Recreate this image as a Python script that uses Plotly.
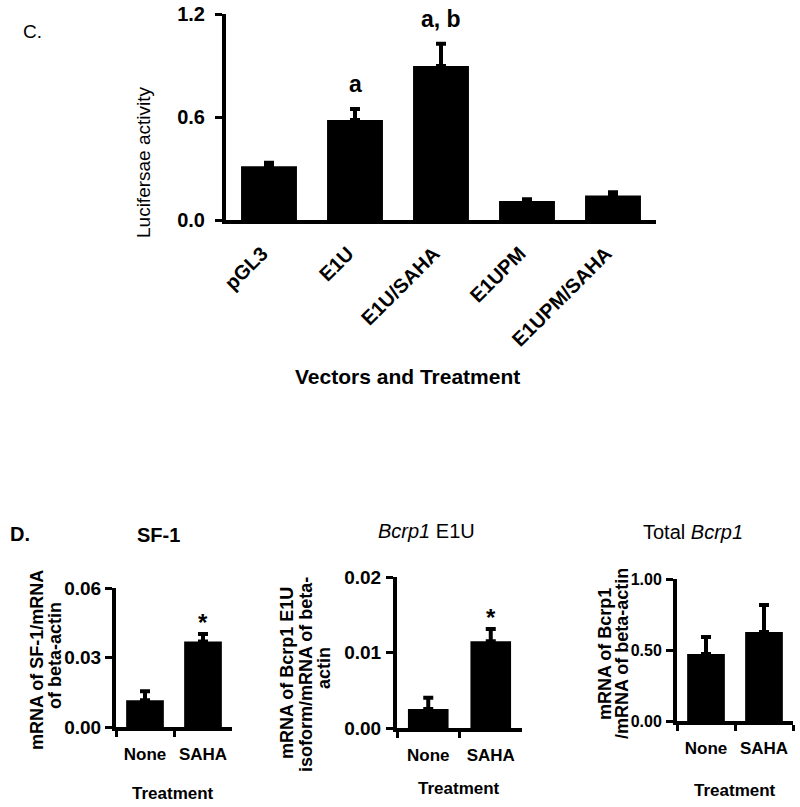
import plotly.graph_objects as go

# ---------------- data ----------------
c_categories = ["pGL3", "E1U", "E1U/SAHA", "E1UPM", "E1UPM/SAHA"]
c_values = [0.313, 0.583, 0.897, 0.111, 0.142]
c_errors = [0.020, 0.064, 0.130, 0.010, 0.020]
c_sig = ["", "a", "a, b", "", ""]
c_yticks = [0.0, 0.6, 1.2]

d_categories = ["None", "SAHA"]
sf1_values = [0.0116, 0.0369]
sf1_errors = [0.0038, 0.0032]
sf1_sig = ["", "*"]
sf1_yticks = [0.00, 0.03, 0.06]

e1u_values = [0.0025, 0.0115]
e1u_errors = [0.0015, 0.0016]
e1u_sig = ["", "*"]
e1u_yticks = [0.00, 0.01, 0.02]

tot_values = [0.472, 0.627]
tot_errors = [0.120, 0.190]
tot_sig = ["", ""]
tot_yticks = [0.00, 0.50, 1.00]

# ---------------- helpers ----------------
W, H = 800, 807
FONT = "Arial, Liberation Sans, sans-serif"


def px(x):
    """screen pixel x -> paper fraction"""
    return x / W


def py(y):
    """screen pixel y -> paper fraction"""
    return 1 - y / H


fig = go.Figure()


def add_bars(cats, vals, errs, xa, ya):
    fig.add_trace(go.Bar(
        x=cats, y=vals, xaxis=xa, yaxis=ya,
        marker=dict(color="black", line=dict(width=0)),
        width=0.65,
        error_y=dict(type="data", symmetric=False, array=errs,
                     arrayminus=[0] * len(vals), thickness=4, width=5,
                     color="black"),
        showlegend=False, hoverinfo="x+y",
    ))


add_bars(c_categories, c_values, c_errors, "x", "y")
add_bars(d_categories, sf1_values, sf1_errors, "x2", "y2")
add_bars(d_categories, e1u_values, e1u_errors, "x3", "y3")
add_bars(d_categories, tot_values, tot_errors, "x4", "y4")

layout = dict(
    width=W, height=H, margin=dict(l=0, r=0, t=0, b=0, autoexpand=False),
    paper_bgcolor="white", plot_bgcolor="white",
    font=dict(family=FONT, color="black"),
    bargap=0.35,
)


def xaxis_def(domain, cats, bottom_style, anchor):
    d = dict(
        domain=[px(domain[0]), px(domain[1])], type="category",
        categoryorder="array", categoryarray=cats,
        range=[-0.5, len(cats) - 0.5], anchor=anchor, automargin=False,
        showline=True, linewidth=4, linecolor="black",
        showgrid=False, zeroline=False, fixedrange=True,
    )
    if bottom_style:
        d.update(ticks="outside", tickson="boundaries", ticklen=6,
                 tickwidth=3, tickcolor="black", tickangle=0,
                 tickfont=dict(family=FONT, size=17, weight="bold"),
                 ticklabelstandoff=9)
    else:
        d.update(ticks="", tickangle=-45,
                 tickfont=dict(family=FONT, size=20, weight="bold"),
                 ticklabelstandoff=10, ticklabelshift=-7)
    return d


def yaxis_def(domain, ticks, fmt, size, anchor, standoff):
    return dict(
        domain=[py(domain[1]), py(domain[0])],
        range=[ticks[0], ticks[-1]], anchor=anchor, automargin=False,
        tickvals=ticks, tickformat=fmt,
        ticks="outside", ticklen=7, tickwidth=3, tickcolor="black",
        showline=True, linewidth=4, linecolor="black",
        showgrid=False, zeroline=False, fixedrange=True,
        tickfont=dict(family=FONT, size=size, weight="bold"),
        ticklabelstandoff=standoff, ticklabeloverflow="allow",
    )


layout["xaxis"] = xaxis_def((226, 656), c_categories, False, "y")
layout["yaxis"] = yaxis_def((14, 220), c_yticks, ".1f", 20, "x", 6)
layout["xaxis2"] = xaxis_def((116, 232), d_categories, True, "y2")
layout["yaxis2"] = yaxis_def((588, 727), sf1_yticks, ".2f", 19, "x2", 0)
layout["xaxis3"] = xaxis_def((397, 522), d_categories, True, "y3")
layout["yaxis3"] = yaxis_def((577, 728), e1u_yticks, ".2f", 19, "x3", 1)
layout["xaxis4"] = xaxis_def((677, 793), d_categories, True, "y4")
layout["yaxis4"] = yaxis_def((579, 721), tot_yticks, ".2f", 16, "x4", 1)

fig.update_layout(**layout)

ann = []


def text(x, y, s, size, bold=True, angle=0, xanchor="center"):
    ann.append(dict(
        x=px(x), y=py(y), xref="paper", yref="paper", text=s,
        showarrow=False, textangle=angle, xanchor=xanchor, yanchor="middle",
        font=dict(family=FONT, size=size, color="black",
                  weight="bold" if bold else "normal"),
    ))


# panel labels
text(21, 32, "C.", 19, bold=False, xanchor="left")
text(8, 534, "D.", 20, xanchor="left")

# panel C titles
text(144, 162, "Lucifersae activity", 19, bold=False, angle=-90)
text(407, 376, "Vectors and Treatment", 21)

# bottom panel titles
text(158, 535, "SF-1", 20)
text(427, 531, "<i>Bcrp1</i> E1U", 20, bold=False)
text(693, 532, "Total <i>Bcrp1</i>", 20, bold=False)

# bottom y titles (one annotation per line)
text(37, 660, "mRNA of SF-1/mRNA", 18, angle=-90)
text(55, 656, "of beta-actin", 18, angle=-90)
text(287, 673, "mRNA of Bcrp1 E1U", 18, angle=-90)
text(306, 675, "isoform/mRNA of beta-", 18, angle=-90)
text(324, 668, "actin", 18, angle=-90)
text(605, 654, "mRNA of Bcrp1", 18, angle=-90)
text(622, 654, "/mRNA of beta-actin", 18, angle=-90)

# bottom x titles
text(173, 793, "Treatment", 17)
text(459, 788, "Treatment", 17)
text(735, 790, "Treatment", 17)


def sig(cats, vals, errs, labels, xa, ya, size, shift):
    for c, v, e, s in zip(cats, vals, errs, labels):
        if s:
            ann.append(dict(
                x=c, y=v + e, xref=xa, yref=ya, text=s, showarrow=False,
                xanchor="center", yanchor="bottom", yshift=shift,
                font=dict(family=FONT, size=size, color="black", weight="bold"),
            ))


sig(c_categories, c_values, c_errors, c_sig, "x", "y", 23, 10)
sig(d_categories, sf1_values, sf1_errors, sf1_sig, "x2", "y2", 24, -4)
sig(d_categories, e1u_values, e1u_errors, e1u_sig, "x3", "y3", 24, -4)
sig(d_categories, tot_values, tot_errors, tot_sig, "x4", "y4", 24, -4)

fig.update_layout(annotations=ann)
# remove the default 8px page margin so the figure fills the window exactly
fig.write_html(
    "out.html",
    config={"displayModeBar": False, "staticPlot": True},
    post_script="document.body.style.margin='0px';"
                "document.body.style.overflow='hidden';",
)
